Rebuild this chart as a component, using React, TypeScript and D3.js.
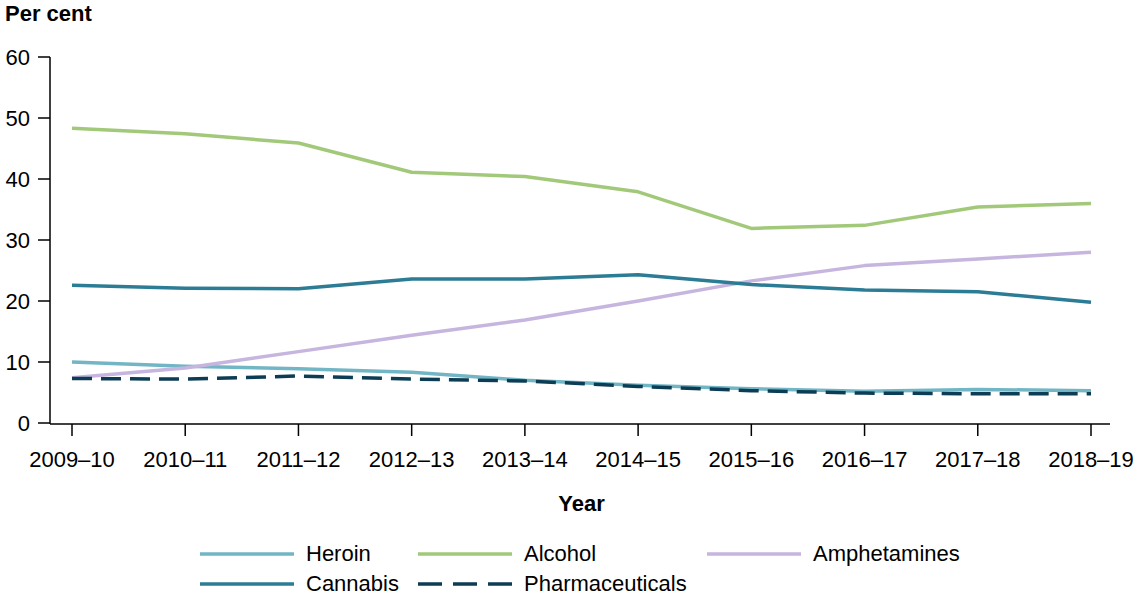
import React, { useEffect } from 'react';
import * as d3 from 'd3';

const years = ['2009–10', '2010–11', '2011–12', '2012–13', '2013–14', '2014–15', '2015–16', '2016–17', '2017–18', '2018–19'];

const heroin = [10.0, 9.3, 8.9, 8.3, 7.0, 6.2, 5.6, 5.2, 5.5, 5.3];
const alcohol = [48.3, 47.4, 45.9, 41.1, 40.4, 37.9, 31.9, 32.4, 35.4, 36.0];
const amphetamines = [7.4, 9.0, 11.7, 14.4, 16.9, 20.0, 23.3, 25.8, 26.9, 28.0];
const cannabis = [22.6, 22.1, 22.0, 23.6, 23.6, 24.3, 22.7, 21.8, 21.5, 19.8];
const pharmaceuticals = [7.3, 7.2, 7.7, 7.2, 6.9, 6.0, 5.3, 4.9, 4.8, 4.8];

const yTicks = [0, 10, 20, 30, 40, 50, 60];

const series = [
  { name: 'Heroin', values: heroin, color: '#72b6c5', dash: '' },
  { name: 'Alcohol', values: alcohol, color: '#a2c97a', dash: '' },
  { name: 'Amphetamines', values: amphetamines, color: '#c6b5de', dash: '' },
  { name: 'Cannabis', values: cannabis, color: '#2b7c94', dash: '' },
  { name: 'Pharmaceuticals', values: pharmaceuticals, color: '#0c3d54', dash: '20,9' },
];

const W = 1140;
const H = 596;
const FONT = '"Liberation Sans", Arial, sans-serif';
const FS = 22;

export default function App() {
  useEffect(() => {
    document.body.style.margin = '0';
  }, []);

  const x = d3.scalePoint<string>().domain(years).range([72, 1091]);
  const y = d3.scaleLinear().domain([0, 60]).range([423, 57]);
  const line = d3.line<number>()
    .x((_, i) => x(years[i])!)
    .y(d => y(d));

  // legend slots: 3 per row
  const legendX = [200, 418, 707];
  const legendY = [554, 584];

  return (
    <svg width={W} height={H} style={{ display: 'block', fontFamily: FONT }}>
      <text x={5} y={21} fontSize={FS} fontWeight="bold" fill="#000">Per cent</text>

      {/* y axis */}
      <line x1={50} x2={50} y1={y(60)} y2={424} stroke="#000" strokeWidth={1.5} />
      {yTicks.map(t => (
        <g key={t}>
          <line x1={38} x2={50} y1={y(t)} y2={y(t)} stroke="#000" strokeWidth={1.5} />
          <text x={30} y={y(t) + 8} fontSize={FS} textAnchor="end" fill="#000">{t}</text>
        </g>
      ))}

      {/* x axis */}
      <line x1={50} x2={1110} y1={424} y2={424} stroke="#000" strokeWidth={1.5} />
      {years.map(yr => (
        <g key={yr}>
          <line x1={x(yr)} x2={x(yr)} y1={424} y2={436} stroke="#000" strokeWidth={1.5} />
          <text x={x(yr)} y={467} fontSize={FS} textAnchor="middle" fill="#000">{yr}</text>
        </g>
      ))}
      <text x={581.5} y={511} fontSize={FS} fontWeight="bold" textAnchor="middle" fill="#000">Year</text>

      {series.map(s => (
        <path key={s.name} d={line(s.values) ?? ''} fill="none" stroke={s.color}
          strokeWidth={3.5} strokeDasharray={s.dash || undefined} strokeLinejoin="round" />
      ))}

      {/* legend */}
      {series.map((s, i) => {
        const lx = legendX[i % 3];
        const ly = legendY[Math.floor(i / 3)];
        return (
          <g key={s.name}>
            <line x1={lx} x2={lx + 94} y1={ly} y2={ly} stroke={s.color} strokeWidth={3.5}
              strokeDasharray={s.dash ? '24,11' : undefined} />
            <text x={lx + 106} y={ly + 7} fontSize={FS} fill="#000">{s.name}</text>
          </g>
        );
      })}
    </svg>
  );
}
